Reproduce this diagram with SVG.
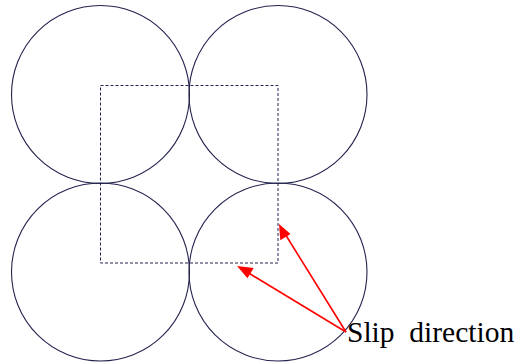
<svg xmlns="http://www.w3.org/2000/svg" width="515" height="364" viewBox="0 0 515 364">
<style>
.c{fill:none;stroke:#23234f;stroke-width:1.1}
.sq{fill:none;stroke:#23234f;stroke-width:1;stroke-dasharray:3,2}
.a{stroke:#f00;stroke-width:1.6;fill:none}
.h{fill:#f00}
.t{font-family:"Liberation Serif",serif;font-size:29.5px;fill:#000}
</style>
<g id="circle-tl"><circle class="c" cx="100.5" cy="94.5" r="89"/></g>
<g id="circle-tr"><circle class="c" cx="278" cy="94.5" r="89"/></g>
<g id="circle-bl"><circle class="c" cx="100.5" cy="272" r="89"/></g>
<g id="circle-br"><circle class="c" cx="278" cy="272" r="89"/></g>
<g id="cell"><rect class="sq" x="100.5" y="85.5" width="177.5" height="177.5"/></g>
<g id="connectors">
<line class="a" x1="346" y1="332" x2="282" y2="229"/>
<polygon class="h" points="279,224 280.3,240.2 290.5,233.9"/>
<line class="a" x1="346" y1="332" x2="242" y2="269"/>
<polygon class="h" points="237,266 247.5,278.3 253.7,268"/>
</g>
<g id="label"><text class="t" x="347" y="342" xml:space="preserve">Slip  direction</text></g>
</svg>
